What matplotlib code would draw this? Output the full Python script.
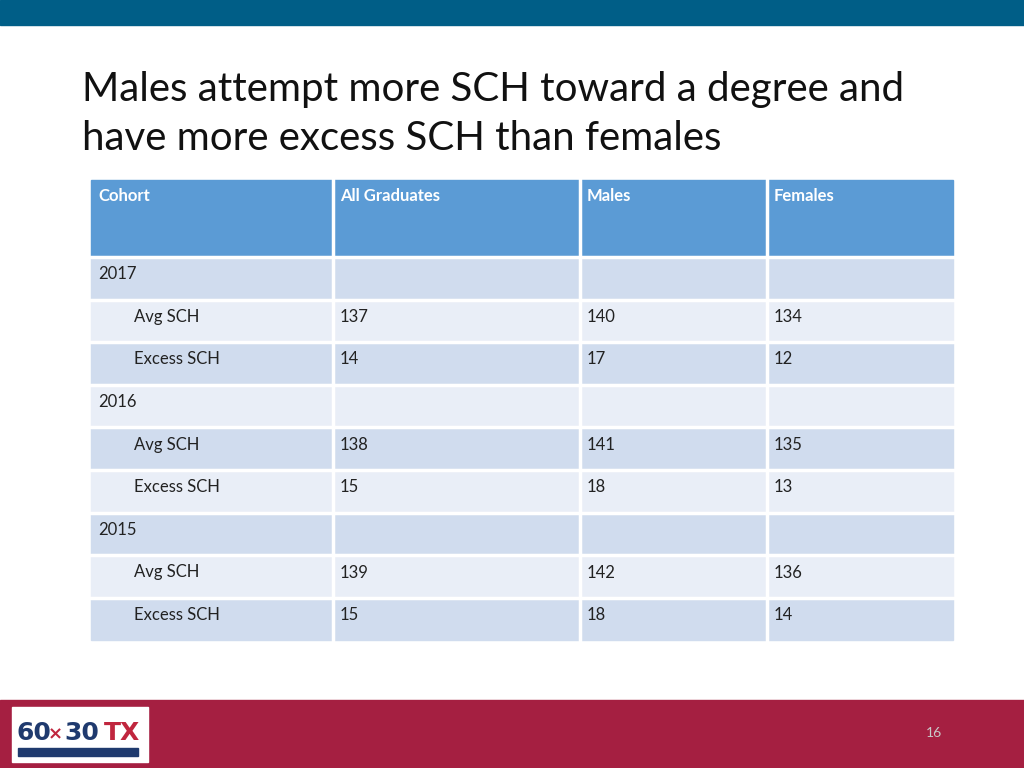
import matplotlib
matplotlib.use("Agg")
import matplotlib.pyplot as plt
from matplotlib.patches import Rectangle

title_lines = ["Males attempt more SCH toward a degree and", "have more excess SCH than females"]
headers = ["Cohort", "All Graduates", "Males", "Females"]
cohorts = ["2017", "2016", "2015"]
metrics = ["Avg SCH", "Excess SCH"]
all_grads = [[137, 14], [138, 15], [139, 15]]
males = [[140, 17], [141, 18], [142, 18]]
females = [[134, 12], [135, 13], [136, 14]]

fig = plt.figure(figsize=(10.24, 7.68), dpi=100)
ax = fig.add_axes([0, 0, 1, 1])
ax.set_xlim(0, 1024); ax.set_ylim(768, 0); ax.axis("off")
FONT = "Lato"

ax.add_patch(Rectangle((0, 0), 1024, 25, color="#005e87"))
ax.add_patch(Rectangle((0, 700), 1024, 68, color="#a51f41"))
ax.add_patch(Rectangle((12, 707), 136, 55, color="white"))
ax.text(16, 733, "60", fontsize=18, fontweight="bold", color="#1f3a6e", va="center", family="Liberation Sans Narrow")
ax.text(55, 734, "×", fontsize=13, fontweight="bold", color="#c0263e", va="center", ha="center")
ax.text(64, 733, "30", fontsize=18, fontweight="bold", color="#1f3a6e", va="center", family="Liberation Sans Narrow")
ax.text(104, 733, "TX", fontsize=18, fontweight="bold", color="#c0263e", va="center", family="Liberation Sans Narrow")
ax.add_patch(Rectangle((18, 748), 120, 8, color="#1f3a6e"))
ax.text(934, 733, "16", fontsize=10, color="#c9c9c9", ha="center", va="center", family=FONT)

for i, t in enumerate(title_lines):
    ax.text(82, 90 + 48 * i, t, fontsize=29, color="#111111", va="center", family=FONT)

cols = [91, 333, 580, 767, 953]
ax.add_patch(Rectangle((cols[0], 180), cols[-1] - cols[0], 77, color="#5b9bd5"))
for j, h in enumerate(headers):
    ax.text(cols[j] + 7, 196, h, fontsize=12, fontweight="bold", color="white", va="center", family=FONT)

rows = []
for c, ag, m, f in zip(cohorts, all_grads, males, females):
    rows.append((c, "", "", "", False))
    for k, met in enumerate(metrics):
        rows.append((met, ag[k], m[k], f[k], True))

y0, rh = 257, 42.6
for i, (lab, a, m, f, indent) in enumerate(rows):
    y = y0 + i * rh
    color = "#d0dcee" if i % 2 == 0 else "#e9eef7"
    ax.add_patch(Rectangle((cols[0], y), cols[-1] - cols[0], rh, color=color))
    vals = [lab, a, m, f]
    for j, v in enumerate(vals):
        xo = 43 if (j == 0 and indent) else 7
        ax.text(cols[j] + xo, y + rh / 2 - 4, str(v), fontsize=12, color="#222222", va="center", family=FONT)
    ax.plot([cols[0], cols[-1]], [y, y], color="white", lw=2.5)
for x in cols[1:-1]:
    ax.plot([x, x], [180, y0 + len(rows) * rh], color="white", lw=2.5)

fig.savefig("out.png", dpi=100)
